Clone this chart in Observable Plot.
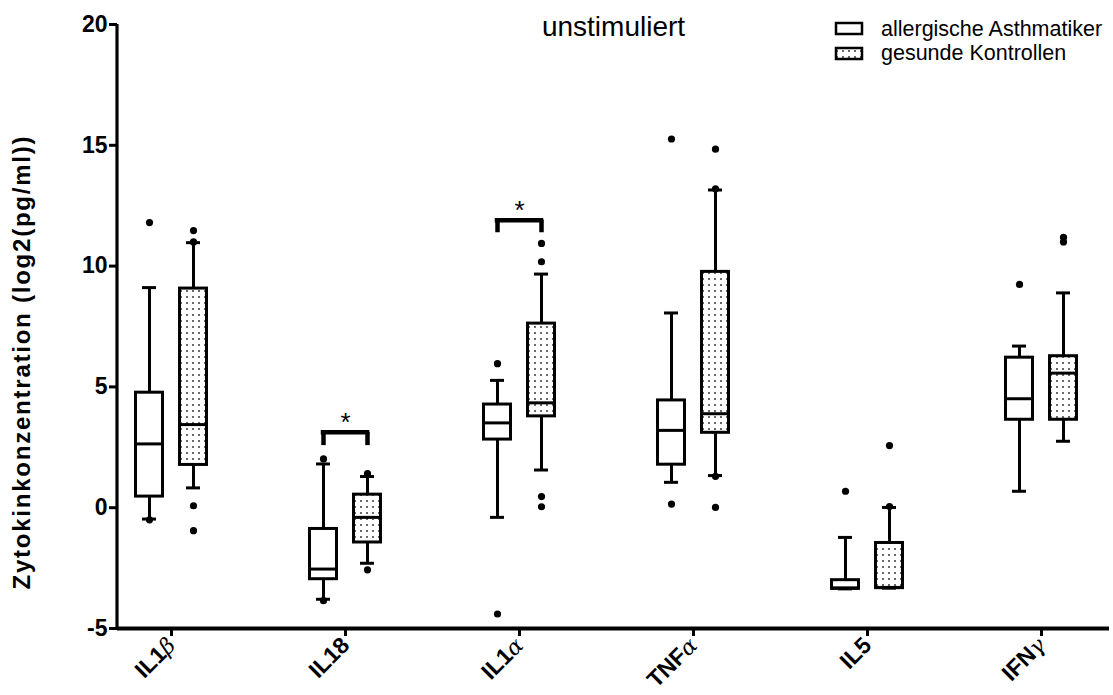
<!DOCTYPE html>
<html><head><meta charset="utf-8">
<script src="https://cdn.jsdelivr.net/npm/d3@7"></script>
<script src="https://cdn.jsdelivr.net/npm/@observablehq/plot@0.6"></script>
<style>body{margin:0;background:#fff}#chart{width:1113px;height:695px}</style>
</head><body><div id="chart"></div>
<script>
// ---- data (log2 pg/ml) ----
const cytokines = ["IL1β", "IL18", "IL1α", "TNFα", "IL5", "IFNγ"];
const groups = ["allergische Asthmatiker", "gesunde Kontrollen"];
const title = "unstimuliert";
const yLabel = "Zytokinkonzentration (log2(pg/ml))";
const yTicks = [-5, 0, 5, 10, 15, 20];

// allergische Asthmatiker
const asthmaLow    = [-0.47, -3.79, -0.40, 1.05, -3.36, 0.68];
const asthmaQ1     = [ 0.46, -2.96,  2.82, 1.78, -3.36, 3.64];
const asthmaMedian = [ 2.64, -2.54,  3.51, 3.20, -3.32, 4.51];
const asthmaQ3     = [ 4.76, -0.88,  4.27, 4.44, -3.00, 6.21];
const asthmaHigh   = [ 9.11,  1.81,  5.27, 8.06, -1.23, 6.69];
const asthmaOutliers = [[11.8, -0.5], [2.02, -3.85], [5.96, -4.4], [15.26, 0.15], [0.68], [9.24]];

// gesunde Kontrollen
const controlLow    = [0.82, -2.30, 1.56, 1.33, -3.33, 2.75];
const controlQ1     = [1.77, -1.44, 3.78, 3.10, -3.33, 3.64];
const controlMedian = [3.44, -0.40, 4.34, 3.89, -3.30, 5.57];
const controlQ3     = [9.07,  0.54, 7.62, 9.76, -1.46, 6.27];
const controlHigh   = [10.97, 1.29, 9.67, 13.15, 0.01, 8.89];
const controlOutliers = [[11.47, 11.0, 0.08, -0.95], [1.41, -2.57], [10.94, 10.18, 0.46, 0.04], [14.84, 13.2, 1.3, 0.01], [2.57, 0.05], [11.19, 11.0]];

// significance brackets
const sigCytokines = ["IL18", "IL1α"];
const sigBar = [3.12, 11.9];
const sigTip = [2.57, 11.38];

// ---- build tables ----
function boxes(low, q1, med, q3, high) {
  return cytokines.map((c, i) => ({cytokine: c, lo: low[i], q1: q1[i], med: med[i], q3: q3[i], hi: high[i]}));
}
function outs(list) {
  return list.flatMap((vals, i) => vals.map(v => ({cytokine: cytokines[i], value: v})));
}
const asthmaBoxes = boxes(asthmaLow, asthmaQ1, asthmaMedian, asthmaQ3, asthmaHigh);
const controlBoxes = boxes(controlLow, controlQ1, controlMedian, controlQ3, controlHigh);
const asthmaOut = outs(asthmaOutliers);
const controlOut = outs(controlOutliers);
const sig = sigCytokines.map((c, i) => ({cytokine: c, bar: sigBar[i], tip: sigTip[i]}));

const HALF = 13.5, CAP = 7, SW = 3;
function boxMarks(data, outData, dx, fill) {
  return [
    Plot.ruleX(data, {x: "cytokine", y1: "q3", y2: "hi", dx, strokeWidth: SW}),
    Plot.ruleX(data, {x: "cytokine", y1: "lo", y2: "q1", dx, strokeWidth: SW}),
    Plot.ruleY(data, {y: "hi", x1: "cytokine", x2: "cytokine", insetLeft: -CAP, insetRight: -CAP, dx, strokeWidth: SW}),
    Plot.ruleY(data, {y: "lo", x1: "cytokine", x2: "cytokine", insetLeft: -CAP, insetRight: -CAP, dx, strokeWidth: SW}),
    Plot.rect(data, {x1: "cytokine", x2: "cytokine", y1: "q1", y2: "q3", insetLeft: -HALF, insetRight: -HALF, dx, fill, stroke: "black", strokeWidth: SW}),
    Plot.ruleY(data, {y: "med", x1: "cytokine", x2: "cytokine", insetLeft: -HALF, insetRight: -HALF, dx, strokeWidth: SW}),
    Plot.dot(outData, {x: "cytokine", y: "value", dx, r: 3.6, fill: "black", stroke: "none"})
  ];
}

const yAxisLine = (index, scales, values, dims) => {
  const l = d3.create("svg:line")
    .attr("x1", dims.marginLeft).attr("x2", dims.marginLeft)
    .attr("y1", dims.marginTop).attr("y2", dims.height - dims.marginBottom + 1.5)
    .attr("stroke", "black").attr("stroke-width", 3.2);
  return l.node();
};

const svg = Plot.plot({
  width: 1113, height: 695,
  marginLeft: 117, marginRight: 4, marginTop: 24, marginBottom: 67,
  style: {fontFamily: "'Liberation Sans', Arial, sans-serif", background: "white", color: "black", overflow: "visible"},
  x: {type: "point", domain: cytokines, range: [169, 1043], padding: 0},
  y: {domain: [-5, 20]},
  marks: [
    Plot.axisY({ticks: yTicks, tickSize: 8, tickPadding: 2, fontSize: 23, strokeWidth: 3, label: null, tickFormat: d => String(d)}),
    Plot.axisX({tickRotate: -45, tickSize: 8, tickPadding: 5, fontSize: 23, strokeWidth: 3, label: null}),
    yAxisLine,
    Plot.ruleY([-5], {strokeWidth: 4}),
    ...boxMarks(asthmaBoxes, asthmaOut, -22, "white"),
    ...boxMarks(controlBoxes, controlOut, 22, "url(#dots)"),
    Plot.ruleY(sig, {y: "bar", x1: "cytokine", x2: "cytokine", insetLeft: -22, insetRight: -22, strokeWidth: 4.5, strokeLinecap: "square"}),
    Plot.ruleX(sig, {x: "cytokine", y1: "bar", y2: "tip", dx: -22, strokeWidth: 4.5}),
    Plot.ruleX(sig, {x: "cytokine", y1: "bar", y2: "tip", dx: 22, strokeWidth: 4.5}),
    Plot.text(sig, {x: "cytokine", y: "bar", text: () => "*", dy: -10, fontSize: 26}),
    Plot.text([title], {frameAnchor: "top", lineAnchor: "middle", dy: 3, fontSize: 28})
  ]
});

const s = d3.select(svg);
// dotted pattern
const defs = s.insert("defs", ":first-child");
const pat = defs.append("pattern").attr("id", "dots").attr("patternUnits", "userSpaceOnUse").attr("width", 6).attr("height", 6);
pat.append("rect").attr("width", 6).attr("height", 6).attr("fill", "white");
pat.append("circle").attr("cx", 3).attr("cy", 3).attr("r", 0.9).attr("fill", "#222");

// bold axis labels, Greek letters in a lighter serif face
s.selectAll('g[aria-label="y-axis tick label"] text, g[aria-label="x-axis tick label"] text').attr("font-weight", "bold");
s.selectAll('g[aria-label="x-axis tick label"] text').each(function() {
  const t = d3.select(this);
  const str = t.text();
  const m = str.match(/^(.*?)([α-ωΑ-Ω])$/);
  if (m) {
    t.text(null);
    t.append("tspan").text(m[1]);
    t.append("tspan").attr("font-weight", "normal").attr("font-family", "'DejaVu Serif', serif").attr("font-style", "italic").attr("font-size", 22).text(m[2]);
  }
});

// y axis title
s.append("text")
  .attr("transform", "translate(30,363) rotate(-90)")
  .attr("text-anchor", "middle").attr("font-size", 24).attr("font-weight", "bold")
  .attr("textLength", 453).attr("lengthAdjust", "spacing")
  .text(yLabel);

// legend
const leg = s.append("g").attr("font-size", 21.5).attr("text-anchor", "start");
groups.forEach((g, i) => {
  leg.append("rect").attr("x", 836).attr("y", 23 + i * 25).attr("width", 26).attr("height", 11)
    .attr("fill", i === 0 ? "white" : "url(#dots)").attr("stroke", "black").attr("stroke-width", 2.5);
  leg.append("text").attr("x", 881).attr("y", 36 + i * 24).text(g);
});

document.getElementById("chart").appendChild(svg);
</script>
</body></html>
